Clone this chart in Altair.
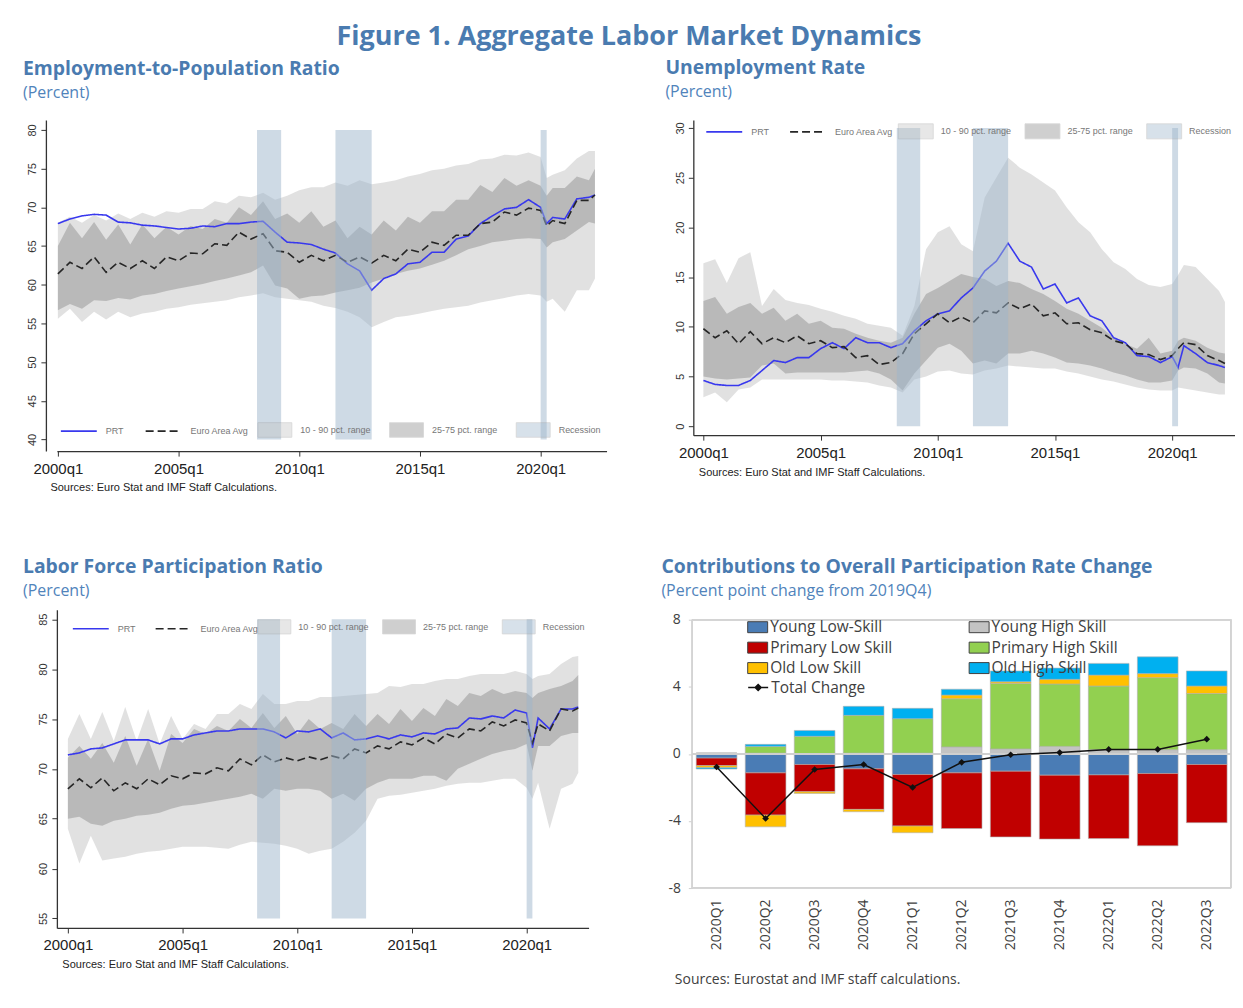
import altair as alt
import pandas as pd

# ---------------- time axis (half-year steps, plus the 2020 quarter) ----------------
T = [2000, 2000.5, 2001, 2001.5, 2002, 2002.5, 2003, 2003.5, 2004, 2004.5,
     2005, 2005.5, 2006, 2006.5, 2007, 2007.5, 2008, 2008.5, 2009, 2009.5,
     2010, 2010.5, 2011, 2011.5, 2012, 2012.5, 2013, 2013.5, 2014, 2014.5,
     2015, 2015.5, 2016, 2016.5, 2017, 2017.5, 2018, 2018.5, 2019, 2019.5,
     2020, 2020.25, 2020.5, 2021, 2021.5, 2022, 2022.25]

REC_START = [2008.25, 2011.5, 2020.0]
REC_END = [2009.25, 2013.0, 2020.25]
X_TICKS = [2000, 2005, 2010, 2015, 2020]

# ---------------- Employment-to-Population ----------------
emp_prt = [67.9, 68.5, 68.9, 69.1, 69.0, 68.1, 68.0, 67.7, 67.6, 67.4,
           67.2, 67.3, 67.6, 67.5, 67.9, 67.9, 68.1, 68.2, 66.8, 65.5,
           65.4, 65.2, 64.6, 64.1, 62.7, 61.8, 59.3, 60.8, 61.4, 62.7,
           62.9, 64.2, 64.2, 65.9, 66.3, 67.9, 68.9, 69.8, 70.0, 71.0,
           70.0, 67.9, 68.7, 68.5, 71.1, 71.3, 71.6]
emp_ea = [61.4, 62.9, 62.1, 63.6, 61.6, 62.9, 62.1, 63.1, 62.1, 63.6,
          63.1, 64.1, 64.0, 65.3, 65.1, 66.8, 65.9, 66.6, 64.4, 64.2,
          62.9, 63.8, 63.1, 63.8, 62.9, 63.6, 62.8, 63.8, 63.1, 64.6,
          64.2, 65.5, 65.1, 66.4, 66.4, 67.9, 68.1, 69.4, 69.0, 69.9,
          69.6, 67.6, 68.3, 67.9, 70.9, 70.9, 71.6]
emp_p90 = [68.0, 68.8, 68.0, 69.0, 68.3, 69.2, 68.5, 69.3, 68.8, 69.5,
           69.3, 69.8, 69.8, 70.8, 70.5, 71.5, 71.3, 71.9, 71.0, 71.5,
           72.2, 72.6, 72.6, 73.2, 72.8, 73.5, 73.0, 73.2, 73.5, 74.0,
           74.3, 74.8, 75.0, 75.4, 75.6, 76.2, 76.3, 76.8, 76.7, 77.1,
           76.5, 73.8, 74.2, 74.8, 76.3, 77.3, 77.3]
emp_p75 = [65.0, 68.0, 66.0, 68.1, 65.8, 67.8, 65.2, 67.8, 66.0, 67.5,
           66.5, 67.6, 67.2, 68.5, 68.0, 70.0, 69.0, 70.8, 68.5, 69.2,
           68.0, 69.5, 67.5, 68.3, 66.0, 67.5, 66.5, 68.3, 67.0, 68.8,
           68.0, 69.5, 69.5, 71.0, 71.0, 72.9, 72.0, 73.8, 72.8, 73.5,
           72.8, 71.5, 72.5, 72.5, 74.0, 73.5, 75.0]
emp_p25 = [56.7, 57.5, 56.9, 58.0, 57.9, 58.3, 58.1, 58.6, 58.8, 59.2,
           59.5, 59.8, 60.1, 60.5, 60.8, 61.2, 61.6, 62.5, 59.9, 59.5,
           58.2, 58.5, 58.6, 59.0, 59.3, 59.6, 60.3, 60.8, 61.4, 61.8,
           62.1, 62.6, 63.1, 63.8, 64.6, 65.0, 65.5, 65.7, 65.9, 66.0,
           65.9, 64.8, 65.5, 65.9, 67.0, 68.1, 67.9]
emp_p10 = [55.6, 56.9, 55.2, 56.5, 55.5, 56.5, 55.8, 56.3, 56.5, 56.9,
           57.1, 57.4, 57.6, 57.8, 58.0, 58.4, 58.6, 58.9, 58.4, 58.2,
           58.0, 57.8, 57.3, 57.0, 56.5, 55.8, 54.5, 55.2, 55.8, 56.0,
           56.3, 56.6, 56.9, 57.1, 57.3, 57.7, 58.0, 58.3, 58.6, 58.8,
           58.6, 57.8, 58.2, 56.5, 59.3, 59.3, 60.8]

# ---------------- Unemployment Rate ----------------
un_prt = [4.6, 4.2, 4.1, 4.1, 4.6, 5.6, 6.6, 6.4, 6.9, 6.9,
          7.8, 8.4, 7.8, 8.9, 8.4, 8.4, 7.9, 8.3, 9.6, 10.6,
          11.3, 11.6, 12.9, 13.9, 15.6, 16.6, 18.4, 16.6, 16.0, 13.8,
          14.3, 12.4, 12.9, 11.1, 10.6, 8.9, 8.4, 7.1, 7.0, 6.4,
          7.0, 5.9, 8.1, 7.3, 6.4, 6.1, 5.9]
un_ea = [9.8, 8.9, 9.6, 8.3, 9.5, 8.3, 8.9, 8.4, 9.1, 8.3,
         8.6, 7.9, 8.0, 6.9, 7.1, 6.2, 6.4, 7.3, 9.3, 10.3,
         11.3, 10.4, 11.0, 10.4, 11.6, 11.4, 12.4, 11.8, 12.3, 11.1,
         11.4, 10.3, 10.4, 9.7, 9.4, 8.6, 8.3, 7.3, 7.2, 6.7,
         7.1, 7.8, 8.4, 8.2, 7.1, 6.6, 6.3]
un_p90 = [16.4, 16.8, 14.4, 16.9, 17.5, 12.1, 13.8, 12.7, 12.4, 12.2,
          11.8, 11.5, 11.1, 10.8, 10.3, 10.1, 9.9, 9.1, 12.1, 17.8,
          19.5, 20.1, 18.3, 17.6, 23.0, 25.0, 27.0, 26.0, 25.3, 24.5,
          23.7, 22.0, 20.5, 19.5, 17.8, 16.5, 15.8, 14.8, 14.2, 14.0,
          14.3, 15.2, 16.2, 16.0, 14.8, 13.6, 12.5]
un_p75 = [12.6, 13.0, 11.3, 12.0, 12.4, 11.3, 11.9, 10.6, 11.3, 10.3,
          10.6, 9.9, 9.8, 9.3, 8.9, 8.6, 8.4, 8.9, 11.3, 13.3,
          13.9, 14.6, 15.3, 15.0, 14.8, 14.1, 14.6, 14.4, 13.8, 13.3,
          12.6, 11.8, 11.3, 10.6, 9.9, 8.9, 8.3, 7.8, 8.9, 7.3,
          7.6, 8.6, 8.9, 8.6, 7.9, 7.4, 7.3]
un_p25 = [5.0, 4.8, 4.7, 4.8, 4.9, 6.1, 6.3, 5.3, 5.4, 5.4,
          5.4, 5.4, 5.4, 5.5, 5.6, 5.3, 4.7, 3.6, 5.3, 6.6,
          7.9, 8.3, 7.6, 6.3, 6.6, 6.3, 7.3, 7.3, 7.6, 7.3,
          6.9, 6.4, 6.3, 6.1, 5.8, 5.4, 5.1, 4.7, 4.4, 4.4,
          4.6, 5.6, 5.9, 5.8, 5.3, 4.4, 4.3]
un_p10 = [2.9, 3.4, 2.4, 3.7, 3.9, 4.7, 4.7, 4.7, 4.7, 4.7,
          4.7, 4.6, 4.6, 4.5, 4.4, 4.1, 3.9, 3.4, 4.7, 5.0,
          5.5, 5.6, 5.3, 5.2, 5.6, 5.8, 6.1, 6.0, 5.9, 5.8,
          5.8, 5.5, 5.3, 5.0, 4.7, 4.5, 4.2, 3.9, 3.7, 3.6,
          3.6, 3.9, 3.8, 3.6, 3.4, 3.2, 3.2]

# ---------------- Labor Force Participation ----------------
lf_prt = [71.4, 71.6, 72.0, 72.1, 72.5, 72.9, 72.9, 72.9, 72.5, 73.0,
          73.0, 73.4, 73.6, 73.8, 73.8, 74.0, 74.0, 74.0, 73.7, 73.1,
          73.8, 73.7, 74.0, 73.1, 73.6, 72.9, 73.0, 73.3, 73.0, 73.4,
          73.2, 73.6, 73.5, 74.0, 74.1, 75.1, 75.0, 75.3, 75.1, 75.9,
          75.6, 72.1, 75.1, 74.0, 76.0, 76.0, 76.2]
lf_ea = [68.0, 69.0, 68.1, 69.1, 67.8, 68.6, 68.0, 69.0, 68.4, 69.3,
         69.0, 69.6, 69.5, 70.1, 69.8, 71.0, 70.4, 71.4, 70.7, 71.1,
         70.8, 71.2, 70.9, 71.3, 71.0, 72.0, 71.6, 72.3, 72.0, 72.7,
         72.4, 73.1, 72.5, 73.5, 73.1, 74.0, 73.8, 74.7, 74.3, 74.9,
         74.6, 72.6, 74.5, 73.8, 76.0, 75.8, 76.1]
lf_p90 = [73.0, 75.5, 73.0, 75.7, 72.8, 76.2, 72.8, 76.0, 72.5, 75.3,
          73.0, 74.5, 74.0, 75.5, 75.5, 76.5, 76.0, 77.5, 76.5, 76.5,
          76.8, 76.8, 77.2, 77.2, 77.3, 77.4, 77.5, 77.6, 78.3, 78.2,
          78.5, 78.5, 78.8, 79.0, 79.0, 79.3, 79.5, 79.5, 79.5, 79.8,
          79.5, 79.0, 79.3, 79.5, 80.5, 81.2, 81.3]
lf_p75 = [71.1, 72.3, 71.0, 72.6, 70.6, 73.3, 70.3, 73.0, 69.8, 73.5,
          72.6, 74.0, 73.5, 74.3, 73.8, 75.0, 74.1, 75.6, 74.1, 75.3,
          73.5, 75.0, 74.0, 74.6, 74.0, 75.5, 74.3, 75.5, 74.5, 76.0,
          74.8, 76.1, 75.3, 77.0, 76.3, 77.6, 77.3, 78.0, 77.5, 77.8,
          77.6, 77.1, 77.6, 78.0, 78.3, 78.8, 79.4]
lf_p25 = [65.0, 65.2, 64.5, 64.3, 64.8, 65.0, 65.3, 65.4, 65.6, 66.0,
          66.3, 66.4, 66.6, 66.8, 67.0, 67.2, 67.5, 67.0, 68.0, 67.8,
          68.0, 68.0, 67.8, 67.0, 67.5, 66.8, 68.0, 68.6, 69.0, 69.0,
          69.0, 69.3, 69.3, 68.8, 70.0, 70.5, 71.0, 71.5, 71.8, 72.0,
          72.5, 69.8, 72.3, 72.3, 73.3, 73.6, 73.6]
lf_p10 = [64.0, 60.5, 63.3, 60.8, 61.0, 61.2, 61.5, 61.7, 61.8, 62.0,
          62.2, 62.2, 62.2, 62.1, 62.0, 62.4, 62.7, 62.6, 62.5, 62.3,
          62.0, 61.5, 61.8, 62.0, 62.7, 63.6, 64.8, 67.0, 67.3, 67.4,
          67.6, 67.8, 68.0, 68.3, 68.5, 68.6, 68.6, 68.8, 69.0, 69.0,
          68.1, 67.0, 68.6, 64.0, 68.0, 68.5, 69.6]

# ---------------- Contributions (bar chart) ----------------
CATS = ["2020Q1", "2020Q2", "2020Q3", "2020Q4", "2021Q1", "2021Q2",
        "2021Q3", "2021Q4", "2022Q1", "2022Q2", "2022Q3"]
SERIES = ["Young Low-Skill", "Young High Skill", "Primary Low Skill",
          "Primary High Skill", "Old Low Skill", "Old High Skill"]
SERIES_COLORS = ["#4a7cb5", "#c3c3c3", "#c00000", "#92d050", "#ffc000", "#00b0f0"]
young_low = [-0.25, -1.13, -0.63, -0.89, -1.23, -1.13, -1.03, -1.27, -1.25, -1.17, -0.63]
young_high = [0.05, 0.05, 0.0, 0.05, 0.05, 0.42, 0.30, 0.45, 0.25, 0.25, 0.25]
primary_low = [-0.45, -2.52, -1.63, -2.42, -3.07, -3.32, -3.92, -3.81, -3.80, -4.31, -3.47]
primary_high = [0.0, 0.40, 1.05, 2.25, 2.05, 2.87, 3.90, 3.72, 3.80, 4.30, 3.35]
old_low = [-0.12, -0.70, -0.10, -0.14, -0.40, 0.22, 0.10, 0.28, 0.65, 0.24, 0.45]
old_high = [-0.08, 0.12, 0.35, 0.54, 0.62, 0.35, 0.65, 0.67, 0.70, 1.00, 0.90]
total_change = [-0.78, -3.85, -0.93, -0.63, -2.0, -0.5, -0.05, 0.08, 0.27, 0.27, 0.88]
BAR_TICKS = [-8, -6, -4, -2, 0, 2, 4, 6, 8]

BLUE_T = "#4a7bb0"
AX = "#333333"
FILL_KEYS = ["10 - 90 pct. range", "25-75 pct. range", "Recession"]


def panel_title(text, sub, dx, offset):
    return alt.TitleParams(text=text, subtitle=sub, anchor="start", frame="group",
                           dx=dx, offset=offset, font="Open Sans", fontSize=19.4,
                           fontWeight="bold", color=BLUE_T, subtitleFont="Open Sans",
                           subtitleFontSize=16, subtitleColor="#5083bb",
                           subtitlePadding=6)


def ts_panel(prt, ea, p10, p90, p25, p75, ydom, yticks, xdom, width, height,
             title, title_dx, title_off, line_leg, fill_leg, src_xy, yoff=0):
    n = len(T)
    band = pd.DataFrame({"t": T, "p10": p10, "p90": p90, "p25": p25, "p75": p75,
                         "k1": FILL_KEYS[0], "k2": FILL_KEYS[1]})
    lines = pd.DataFrame({"t": T + T, "v": prt + ea,
                          "series": ["PRT"] * n + ["Euro Area Avg"] * n})
    rec = pd.DataFrame({"t": REC_START, "e": REC_END,
                        "lo": [yticks[0]] * 3, "hi": [yticks[-1]] * 3, "k": FILL_KEYS[2]})

    xaxis = alt.Axis(values=X_TICKS, labelExpr="datum.value + 'q1'",
                     grid=False, domainColor=AX, tickColor=AX, domainWidth=1.3,
                     tickSize=5, labelPadding=5, labelFontSize=15, labelFlush=False,
                     labelOverlap=False, labelFont="Liberation Sans", labelColor="#222",
                     titleX=src_xy[0], titleY=src_xy[1], titleAlign="left",
                     titleBaseline="middle", titleFontSize=11,
                     titleFontWeight="normal", titleFont="Liberation Sans",
                     titleColor="#222")
    xenc = alt.X("t:Q", scale=alt.Scale(domain=xdom, nice=False, zero=False),
                 axis=xaxis, title="Sources: Euro Stat and IMF Staff Calculations.")
    yscale = alt.Scale(domain=ydom, nice=False, zero=False)
    yaxis = alt.Axis(values=yticks, grid=False, domainColor=AX, tickColor=AX,
                     domainWidth=1.3, tickSize=5, labelAngle=270, labelAlign="center",
                     labelBaseline="bottom", labelPadding=3, labelFontSize=11,
                     labelFlush=False, labelOverlap=False,
                     labelFont="Liberation Sans", labelColor="#333", offset=yoff)

    fill_scale = alt.Scale(domain=FILL_KEYS, range=["#c4c4c4", "#8a8a8a", "#9db5cb"])
    fleg = alt.Legend(orient="none", legendX=fill_leg[0], legendY=fill_leg[1],
                      direction="horizontal", symbolType="M-1,-0.43H1V0.43H-1Z",
                      symbolSize=fill_leg[3] ** 2, symbolStrokeColor="#999",
                      symbolStrokeWidth=0.8, symbolOpacity=0.4, labelFontSize=9,
                      labelFont="Liberation Sans", labelColor="#777",
                      labelOffset=fill_leg[4], columnPadding=fill_leg[2], title=None)
    line_scale = alt.Scale(domain=["PRT", "Euro Area Avg"], range=["#3838ee", "#262626"])
    dash_scale = alt.Scale(domain=["PRT", "Euro Area Avg"], range=[[1, 0], [8, 4]])
    lleg = alt.Legend(orient="none", legendX=line_leg[0], legendY=line_leg[1],
                      direction="horizontal", symbolType="stroke", symbolSize=1296,
                      symbolStrokeWidth=1.6, labelFontSize=9, labelFont="Liberation Sans",
                      labelColor="#777", labelOffset=8, columnPadding=line_leg[2],
                      title=None)

    outer = alt.Chart(band).mark_area(opacity=0.5).encode(
        x=xenc,
        y=alt.Y("p10:Q", scale=yscale, axis=yaxis, title=None),
        y2="p90:Q",
        fill=alt.Fill("k1:N", scale=fill_scale, legend=fleg, title=None),
    )
    inner = alt.Chart(band).mark_area(opacity=0.45).encode(
        x=xenc,
        y=alt.Y("p25:Q", scale=yscale, axis=yaxis, title=None),
        y2="p75:Q",
        fill=alt.Fill("k2:N", scale=fill_scale, legend=fleg, title=None),
    )
    ln = alt.Chart(lines).mark_line(strokeWidth=1.6).encode(
        x=xenc,
        y=alt.Y("v:Q", scale=yscale, axis=yaxis, title=None),
        color=alt.Color("series:N", scale=line_scale, legend=lleg, title=None),
        strokeDash=alt.StrokeDash("series:N", scale=dash_scale, legend=lleg, title=None),
    )
    rc = alt.Chart(rec).mark_rect(opacity=0.5).encode(
        x=xenc, x2="e:Q",
        y=alt.Y("lo:Q", scale=yscale, axis=yaxis, title=None), y2="hi:Q",
        fill=alt.Fill("k:N", scale=fill_scale, legend=fleg, title=None),
    )
    return alt.layer(outer, inner, ln, rc).properties(
        width=width, height=height, title=panel_title(title, "(Percent)", title_dx, title_off))


# A shares its left edge with C, so its y-axis is pushed out by 11px instead
A = ts_panel(emp_prt, emp_ea, emp_p10, emp_p90, emp_p25, emp_p75,
             [38.5, 81.3], [40, 45, 50, 55, 60, 65, 70, 75, 80],
             [1999.959, 2022.73], 551, 332, "Employment-to-Population Ratio", -34, 18,
             (3, 293, 18), (201, 293, 16, 34, 8), (-7, 36), yoff=11)
B = ts_panel(un_prt, un_ea, un_p10, un_p90, un_p25, un_p75,
             [-0.9, 30.8], [0, 5, 10, 15, 20, 25, 30],
             [1999.57, 2022.68], 543, 316, "Unemployment Rate", -28, 12,
             (12, -7, 17), (205, -7, 11, 35, 7), (5, 37))
C = ts_panel(lf_prt, lf_ea, lf_p10, lf_p90, lf_p25, lf_p75,
             [54.05, 85.95], [55, 60, 65, 70, 75, 80, 85],
             [1999.52, 2022.7], 533, 319, "Labor Force Participation Ratio", -34, 9.5,
             (15, 0, 16), (201, 0, 11, 33, 7), (5, 37))

# ---------------- bar chart ----------------
rows = []
for si, (s, vals) in enumerate(zip(SERIES, [young_low, young_high, primary_low,
                                             primary_high, old_low, old_high])):
    for c, v in zip(CATS, vals):
        rows.append({"cat": c, "series": s, "v": v, "idx": si})
bars_df = pd.DataFrame(rows)
tot_df = pd.DataFrame({"cat": CATS, "total": total_change, "lab": "Total Change"})

bx = alt.X("cat:N", sort=CATS, scale=alt.Scale(paddingInner=0.17, paddingOuter=0.08),
           axis=alt.Axis(labelAngle=270, labelAlign="right", labelBaseline="middle",
                         domain=False, ticks=False, labelPadding=11, labelFontSize=14,
                         labelFont="Open Sans", labelColor="#404040",
                         titleX=-18, titleY=92, titleAlign="left", titleBaseline="middle",
                         titleFontSize=14, titleFontWeight="normal", titleFont="Open Sans",
                         titleColor="#404040"),
           title="Sources: Eurostat and IMF staff calculations.")
bys = alt.Scale(domain=[-8, 8.6], nice=False)
bya = alt.Axis(values=BAR_TICKS, domain=False, ticks=True, tickSize=4, tickColor="#d0d0d0",
               grid=False, labelOverlap=False,
               labelExpr="datum.value < 0 ? '-' + abs(datum.value) : '' + datum.value",
               labelPadding=8, labelFontSize=14, labelFont="Open Sans", labelColor="#404040")

frame = alt.Chart(tot_df).mark_rect(fillOpacity=0, stroke="#d4d4d4", strokeWidth=1).encode(
    x=alt.value(0), x2=alt.value("width"),
    y=alt.Y(datum=BAR_TICKS[-1], scale=bys, axis=bya, title=None),
    y2=alt.datum(BAR_TICKS[0]))
bars = alt.Chart(bars_df).mark_bar(stroke="#b0b0b0", strokeWidth=0.6).encode(
    x=bx,
    y=alt.Y("v:Q", stack="zero", scale=bys, axis=bya, title=None),
    fill=alt.Fill("series:N", scale=alt.Scale(domain=SERIES, range=SERIES_COLORS),
                  legend=alt.Legend(orient="none", legendX=55, legendY=7, columns=2,
                                    direction="horizontal",
                                    symbolType="M-1,-0.55H1V0.55H-1Z", symbolSize=400,
                                    symbolStrokeColor="#404040", symbolStrokeWidth=1,
                                    labelFontSize=15.5, labelFont="Open Sans",
                                    labelColor="#404040", labelOffset=2, rowPadding=1.5,
                                    columnPadding=74, title=None),
                  title=None),
    order=alt.Order("idx:Q"),
)
zero = alt.Chart(tot_df).mark_rule(color="#d0d0d0", strokeWidth=1).encode(y=alt.datum(0))
tline = alt.Chart(tot_df).mark_line(strokeWidth=1.5).encode(
    x=bx,
    y=alt.Y("total:Q", scale=bys, axis=bya, title=None),
    stroke=alt.Stroke("lab:N", scale=alt.Scale(domain=["Total Change"], range=["#111111"]),
                      legend=alt.Legend(orient="none", legendX=55, legendY=67,
                                        symbolType="M-1,0H1M0,-0.3L0.3,0L0,0.3L-0.3,0Z",
                                        symbolSize=400, symbolStrokeWidth=1.5,
                                        symbolFillColor="#111111",
                                        labelFontSize=15.5, labelFont="Open Sans",
                                        labelColor="#404040", labelOffset=2, title=None),
                      title=None),
)
tpts = alt.Chart(tot_df).mark_point(shape="diamond", filled=True, size=45, color="#111111",
                                    opacity=1).encode(
    x=bx, y=alt.Y("total:Q", scale=bys, axis=bya, title=None))

D = alt.layer(frame, bars, zero, tline, tpts).properties(
    width=540, height=279,
    title=panel_title("Contributions to Overall Participation Rate Change",
                      "(Percent point change from 2019Q4)", -31, 9.5),
)

res = dict(color="independent", fill="independent", strokeDash="independent",
           stroke="independent", x="independent", y="independent")
top = alt.hconcat(A, B, spacing=59).resolve_scale(**res)
bottom = alt.hconcat(C, D, spacing=73).resolve_scale(**res)

chart = alt.vconcat(top, bottom, spacing=65).resolve_scale(**res).properties(
    padding={"left": 15, "top": 13, "right": 0, "bottom": 5},
    title=alt.TitleParams(text="Figure 1. Aggregate Labor Market Dynamics", anchor="middle",
                          font="Open Sans", fontSize=27, fontWeight="bold",
                          color=BLUE_T, offset=7),
).configure_view(stroke=None)

chart.save("out.html", embed_options={"renderer": "svg", "actions": False})
